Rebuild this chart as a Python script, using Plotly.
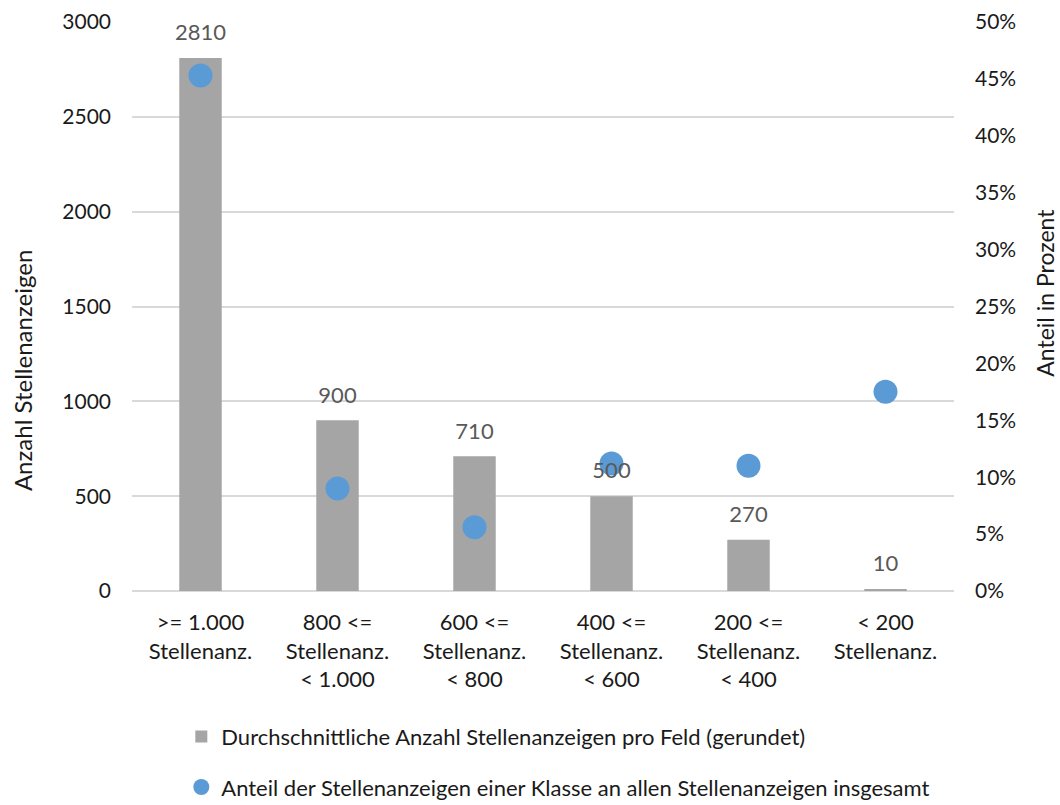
import plotly.graph_objects as go

categories = [
    ">= 1.000<br>Stellenanz.",
    "800 <=<br>Stellenanz.<br>< 1.000",
    "600 <=<br>Stellenanz.<br>< 800",
    "400 <=<br>Stellenanz.<br>< 600",
    "200 <=<br>Stellenanz.<br>< 400",
    "< 200<br>Stellenanz.",
]
avg_ads = [2810, 900, 710, 500, 270, 10]
share = [0.453, 0.090, 0.056, 0.112, 0.110, 0.175]

BAR_NAME = "Durchschnittliche Anzahl Stellenanzeigen pro Feld (gerundet)"
DOT_NAME = "Anteil der Stellenanzeigen einer Klasse an allen Stellenanzeigen insgesamt"
LEFT_TITLE = "Anzahl Stellenanzeigen"
RIGHT_TITLE = "Anteil in Prozent"

FONT = "Lato, 'Open Sans', sans-serif"
TXT = "#1a1a1a"
COUNT_RANGE = [0, 3000]

fig = go.Figure()
fig.add_trace(go.Bar(
    x=categories, y=avg_ads, name=BAR_NAME, legendgroup="a",
    marker=dict(color="#A5A5A5", line=dict(width=0)), width=0.31))
fig.add_trace(go.Scatter(
    x=categories, y=share, name=DOT_NAME, legendgroup="b", yaxis="y2",
    mode="markers", marker=dict(color="#5B9BD5", size=24)))
# data labels on a hidden copy of the count axis so they sit above the dots;
# the invisible marker lifts the text a little off the bar top
fig.add_trace(go.Scatter(
    x=categories, y=avg_ads, yaxis="y3", mode="markers+text", text=avg_ads,
    textposition="top center", showlegend=False, hoverinfo="skip",
    marker=dict(size=18, opacity=0), cliponaxis=False,
    textfont=dict(color="#595959", size=22, family=FONT)))

fig.update_layout(
    width=1060, height=805, plot_bgcolor="white", paper_bgcolor="white",
    font=dict(family=FONT, size=22, color=TXT),
    margin=dict(l=132, r=106, t=22, b=214, autoexpand=False),
    xaxis=dict(categoryorder="array", categoryarray=categories,
               showline=False, ticks="", tickfont=dict(size=22),
               ticklabelstandoff=16, automargin=False),
    yaxis=dict(range=COUNT_RANGE, dtick=500, showgrid=True, gridcolor="#D9D9D9",
               gridwidth=1.5, zeroline=True, zerolinecolor="#D9D9D9",
               zerolinewidth=1.5, ticklabelstandoff=20, automargin=False,
               tickfont=dict(size=21)),
    yaxis2=dict(range=[0, 0.5], dtick=0.05, tickformat=".0%", overlaying="y",
                side="right", showgrid=False, zeroline=False,
                ticklabelstandoff=20, automargin=False,
                tickfont=dict(size=21)),
    yaxis3=dict(range=COUNT_RANGE, overlaying="y", visible=False),
    annotations=[
        dict(text=LEFT_TITLE, textangle=-90, xref="paper", yref="paper",
             x=-0.134, y=0.388, xanchor="center", yanchor="middle",
             showarrow=False, font=dict(size=24, color=TXT)),
        dict(text=RIGHT_TITLE, textangle=-90, xref="paper", yref="paper",
             x=1.1105, y=0.524, xanchor="center", yanchor="middle",
             showarrow=False, font=dict(size=23, color=TXT)),
    ],
    showlegend=True,
    legend=dict(orientation="v", x=0.06, xanchor="left", y=-0.219,
                yanchor="top", traceorder="grouped", tracegroupgap=19,
                font=dict(size=22, color=TXT), itemwidth=30),
)

# drop the default 8px body margin so the 1060x805 figure fills the window
fig.write_html("out.html", config={"displayModeBar": False},
               post_script="document.body.style.margin='0';")
